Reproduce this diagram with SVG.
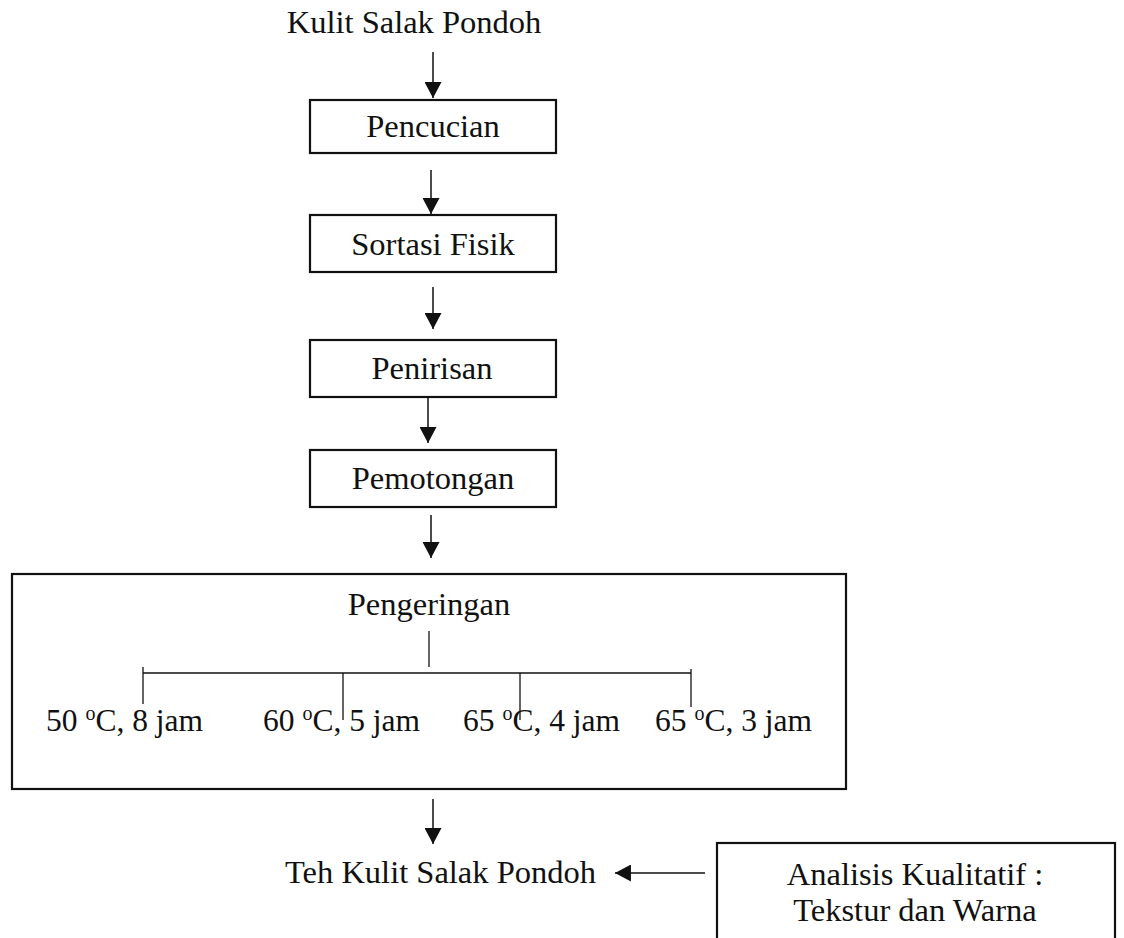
<svg xmlns="http://www.w3.org/2000/svg" width="1124" height="938" viewBox="0 0 1124 938">
<style>
text{font-family:"Liberation Serif","Times New Roman",serif;font-size:32.5px;fill:#111}
.lbl{font-size:31.5px}
.box{fill:#fff;stroke:#111;stroke-width:2.2}
.ln{stroke:#111;stroke-width:1.5;fill:none}
.tk{stroke:#111;stroke-width:1.3;fill:none}
.mid{text-anchor:middle}
</style>
<defs>
<marker id="ah" markerUnits="userSpaceOnUse" markerWidth="17" markerHeight="17" viewBox="0 0 16 16" refX="15" refY="8" orient="auto">
<path d="M0,0 L15,8 L0,16 Z" fill="#111"/>
</marker>
</defs>
<rect width="1124" height="938" fill="#fff"/>
<g id="n-start"><text x="414" y="33" class="mid">Kulit Salak Pondoh</text></g>
<g id="n-pencucian"><rect class="box" x="310" y="100" width="246" height="53"/><text x="433" y="137" class="mid">Pencucian</text></g>
<g id="n-sortasi"><rect class="box" x="310" y="215" width="246" height="57"/><text x="433" y="255" class="mid">Sortasi Fisik</text></g>
<g id="n-penirisan"><rect class="box" x="310" y="340" width="246" height="57"/><text x="432" y="379" class="mid">Penirisan</text></g>
<g id="n-pemotongan"><rect class="box" x="310" y="450" width="246" height="57"/><text x="433" y="489" class="mid">Pemotongan</text></g>
<g id="n-pengeringan">
<rect class="box" x="12" y="574" width="834" height="215"/>
<text x="429" y="615" class="mid">Pengeringan</text>
<line class="tk" x1="429" y1="631" x2="429" y2="667"/>
<line class="tk" x1="143" y1="673" x2="691" y2="673"/>
<line class="tk" x1="143" y1="667" x2="143" y2="704"/>
<line class="tk" x1="343" y1="673" x2="343" y2="720"/>
<line class="tk" x1="520" y1="673" x2="520" y2="720"/>
<line class="tk" x1="691" y1="669" x2="691" y2="707"/>
<text class="lbl" x="46" y="731">50 <tspan font-size="20" dy="-11">o</tspan><tspan dy="11">C, 8 jam</tspan></text>
<text class="lbl" x="263" y="731">60 <tspan font-size="20" dy="-11">o</tspan><tspan dy="11">C, 5 jam</tspan></text>
<text class="lbl" x="463" y="731">65 <tspan font-size="20" dy="-11">o</tspan><tspan dy="11">C, 4 jam</tspan></text>
<text class="lbl" x="655" y="731">65 <tspan font-size="20" dy="-11">o</tspan><tspan dy="11">C, 3 jam</tspan></text>
</g>
<g id="n-teh"><text x="285" y="883">Teh Kulit Salak Pondoh</text></g>
<g id="n-analisis"><rect class="box" x="717" y="843" width="398" height="110"/>
<text x="915" y="885" class="mid">Analisis Kualitatif :</text>
<text x="915" y="921" class="mid">Tekstur dan Warna</text></g>
<g id="connectors">
<line class="ln" x1="433" y1="52" x2="433" y2="98" marker-end="url(#ah)"/>
<line class="ln" x1="431" y1="170" x2="431" y2="214" marker-end="url(#ah)"/>
<line class="ln" x1="433" y1="287" x2="433" y2="329" marker-end="url(#ah)"/>
<line class="ln" x1="428" y1="397" x2="428" y2="443" marker-end="url(#ah)"/>
<line class="ln" x1="431" y1="515" x2="431" y2="558" marker-end="url(#ah)"/>
<line class="ln" x1="433" y1="799" x2="433" y2="844" marker-end="url(#ah)"/>
<line class="ln" x1="705" y1="873" x2="615" y2="873" marker-end="url(#ah)"/>
</g>
</svg>
